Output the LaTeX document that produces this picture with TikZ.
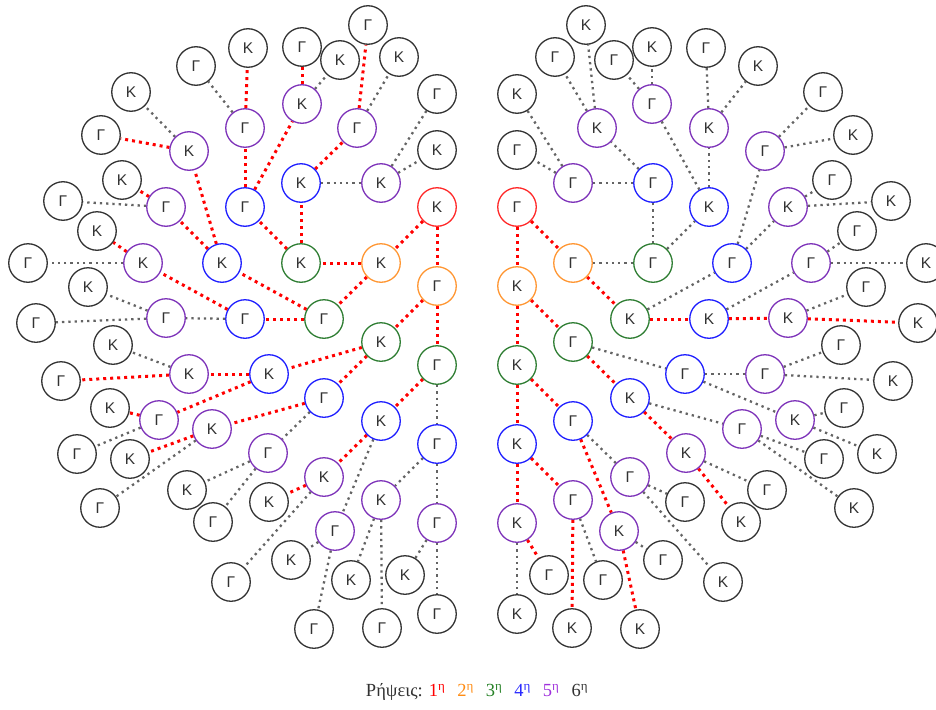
\documentclass[tikz,border=0pt]{standalone}
\usepackage{fontspec}
\newfontfamily\nodefont{Liberation Sans}
\newfontfamily\legfont{Liberation Serif}
\pgfdeclarelayer{bg}
\pgfsetlayers{bg,main}
\definecolor{cred}{RGB}{255,40,40}
\definecolor{corange}{RGB}{255,150,50}
\definecolor{cgreen}{RGB}{46,125,50}
\definecolor{cblue}{RGB}{30,30,255}
\definecolor{cpurple}{RGB}{125,50,185}
\definecolor{cblack}{RGB}{50,50,50}
\definecolor{cdot}{RGB}{100,100,100}
\definecolor{dred}{RGB}{255,0,0}
\definecolor{lorange}{RGB}{255,140,20}
\definecolor{lgreen}{RGB}{40,130,40}
\definecolor{lblue}{RGB}{40,40,255}
\definecolor{lpurple}{RGB}{160,50,220}
\begin{document}
\begin{tikzpicture}[x=1pt,y=-1pt,
  nd/.style={circle,fill=white,minimum size=38.5pt,inner sep=0pt,line width=1.3pt,
    font=\nodefont\fontsize{15.5}{17}\selectfont, text=cblack},
  c1/.style={draw=cred}, c2/.style={draw=corange}, c3/.style={draw=cgreen},
  c4/.style={draw=cblue}, c5/.style={draw=cpurple}, c6/.style={draw=cblack},
  re/.style={draw=dred,line width=3pt,dash pattern=on 3pt off 4pt},
  ge/.style={draw=cdot,line width=2.3pt,dash pattern=on 2.3pt off 4pt}]
\useasboundingbox (0,0) rectangle (936,709);
\node[nd,c1] (Lk) at (437,207) {Κ};
\node[nd,c1] (Rk) at (517,207) {Γ};
\foreach \p/\x/\y/\q/\a/\b/\c/\s/\t in {
kk/381/263/k/Κ/Γ/c2/re/re,
kg/437/286/k/Γ/Κ/c2/re/re,
kkk/301/263/kk/Κ/Γ/c3/re/ge,
kkg/324/319/kk/Γ/Κ/c3/re/re,
kgk/381/342/kg/Κ/Γ/c3/re/re,
kgg/437/365/kg/Γ/Κ/c3/re/re,
kkkg/245/207/kkk/Γ/Κ/c4/re/ge,
kkkk/301/183/kkk/Κ/Γ/c4/re/ge,
kkgk/222/263/kkg/Κ/Γ/c4/re/ge,
kkgg/245/319/kkg/Γ/Κ/c4/re/re,
kgkk/269/374/kgk/Κ/Γ/c4/re/ge,
kgkg/324/398/kgk/Γ/Κ/c4/re/re,
kggk/381/421/kgg/Κ/Γ/c4/re/re,
kggg/437/444/kgg/Γ/Κ/c4/ge/re,
kkkgg/245/128/kkkg/Γ/Κ/c5/re/ge,
kkkgk/302/104/kkkg/Κ/Γ/c5/re/ge,
kkkkg/357/128/kkkk/Γ/Κ/c5/re/ge,
kkkkk/381/183/kkkk/Κ/Γ/c5/ge/ge,
kkgkk/189/151/kkgk/Κ/Γ/c5/re/ge,
kkgkg/166/207/kkgk/Γ/Κ/c5/re/ge,
kkggk/143/263/kkgg/Κ/Γ/c5/re/ge,
kkggg/166/318/kkgg/Γ/Κ/c5/ge/re,
kgkkk/189/374/kgkk/Κ/Γ/c5/re/ge,
kgkkg/159/420/kgkk/Γ/Κ/c5/re/ge,
kgkgk/212/429/kgkg/Κ/Γ/c5/re/ge,
kgkgg/268/453/kgkg/Γ/Κ/c5/ge/re,
kggkk/324/477/kggk/Κ/Γ/c5/re/ge,
kggkg/335/531/kggk/Γ/Κ/c5/ge/re,
kgggk/381/500/kggg/Κ/Γ/c5/ge/re,
kgggg/437/523/kggg/Γ/Κ/c5/ge/re,
kkkggk/248/48/kkkgg/Κ/Γ/c6/re/ge,
kkkggg/196/66/kkkgg/Γ/Κ/c6/ge/ge,
kkkgkg/302/47/kkkgk/Γ/Κ/c6/re/ge,
kkkgkk/340/60/kkkgk/Κ/Γ/c6/ge/ge,
kkkkgg/368/25/kkkkg/Γ/Κ/c6/re/ge,
kkkkgk/399/57/kkkkg/Κ/Γ/c6/ge/ge,
kkkkkg/437/94/kkkkk/Γ/Κ/c6/ge/ge,
kkkkkk/437/150/kkkkk/Κ/Γ/c6/ge/ge,
kkgkkg/101/135/kkgkk/Γ/Κ/c6/re/ge,
kkgkkk/131/92/kkgkk/Κ/Γ/c6/ge/ge,
kkgkgk/122/180/kkgkg/Κ/Γ/c6/re/ge,
kkgkgg/63/201/kkgkg/Γ/Κ/c6/ge/ge,
kkggkk/97/231/kkggk/Κ/Γ/c6/re/ge,
kkggkg/28/263/kkggk/Γ/Κ/c6/ge/ge,
kkgggk/88/287/kkggg/Κ/Γ/c6/ge/ge,
kkgggg/36/323/kkggg/Γ/Κ/c6/ge/re,
kgkkkg/61/381/kgkkk/Γ/Κ/c6/re/ge,
kgkkkk/113/345/kgkkk/Κ/Γ/c6/ge/ge,
kgkkgk/110/408/kgkkg/Κ/Γ/c6/re/ge,
kgkkgg/77/454/kgkkg/Γ/Κ/c6/ge/ge,
kgkgkk/130/459/kgkgk/Κ/Γ/c6/re/ge,
kgkgkg/100/508/kgkgk/Γ/Κ/c6/ge/ge,
kgkggk/187/490/kgkgg/Κ/Γ/c6/ge/ge,
kgkggg/213/522/kgkgg/Γ/Κ/c6/ge/re,
kggkkk/269/502/kggkk/Κ/Γ/c6/re/ge,
kggkkg/231/582/kggkk/Γ/Κ/c6/ge/ge,
kggkgk/291/560/kggkg/Κ/Γ/c6/ge/ge,
kggkgg/314/629/kggkg/Γ/Κ/c6/ge/re,
kgggkk/351/580/kgggk/Κ/Γ/c6/ge/ge,
kgggkg/382/628/kgggk/Γ/Κ/c6/ge/re,
kggggk/405/575/kgggg/Κ/Γ/c6/ge/re,
kggggg/437/614/kgggg/Γ/Κ/c6/ge/ge}{
  \node[nd,\c] (L\p) at (\x,\y) {\a};
  \node[nd,\c] (R\p) at ({954-\x},\y) {\b};
  \begin{pgfonlayer}{bg}
    \draw[\s] (L\q) -- (L\p);
    \draw[\t] (R\q) -- (R\p);
  \end{pgfonlayer}
}
\node[font=\legfont\fontsize{18.5}{22}\selectfont, text=cblack, inner sep=0pt] (leg) at (477,692)
  {Ρήψεις: \textcolor{red}{1\textsuperscript{η}}\hspace{12pt}\textcolor{lorange}{2\textsuperscript{η}}\hspace{12pt}\textcolor{lgreen}{3\textsuperscript{η}}\hspace{12pt}\textcolor{lblue}{4\textsuperscript{η}}\hspace{12pt}\textcolor{lpurple}{5\textsuperscript{η}}\hspace{12pt}\textcolor{cblack}{6\textsuperscript{η}}};
\end{tikzpicture}
\end{document}
